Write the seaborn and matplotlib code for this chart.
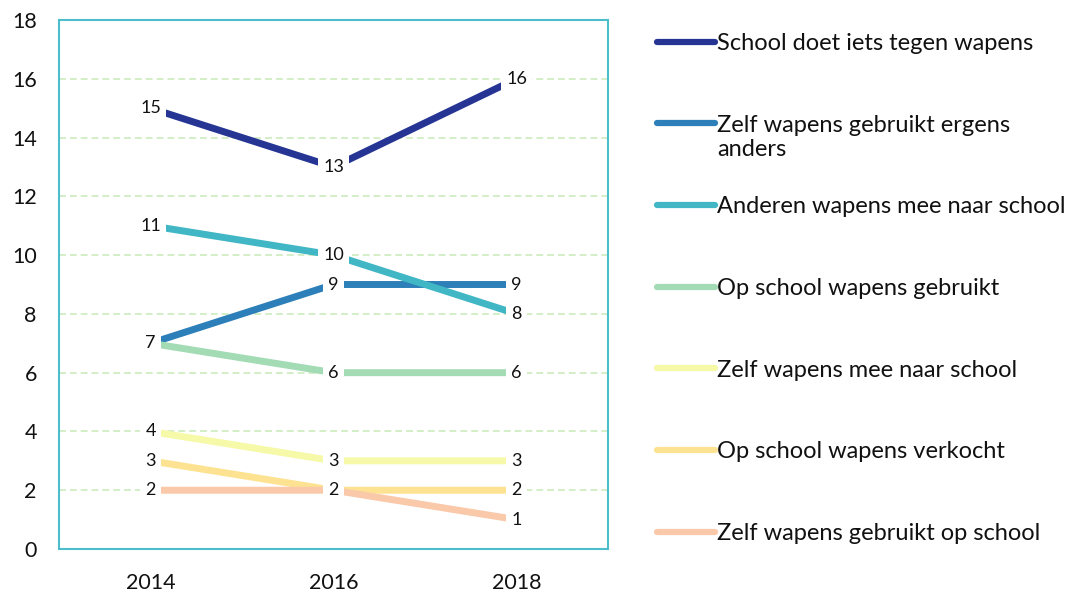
import matplotlib
matplotlib.use("Agg")
import numpy as np
import pandas as pd
import seaborn as sns
import matplotlib.pyplot as plt

# ---- data ----
years = [2014, 2016, 2018]
series = [
    "School doet iets tegen wapens",
    "Zelf wapens gebruikt ergens anders",
    "Anderen wapens mee naar school",
    "Op school wapens gebruikt",
    "Zelf wapens mee naar school",
    "Op school wapens verkocht",
    "Zelf wapens gebruikt op school",
]
school_doet_iets = [15, 13, 16]
zelf_gebruikt_ergens = [7, 9, 9]
anderen_mee = [11, 10, 8]
school_gebruikt = [7, 6, 6]
zelf_mee = [4, 3, 3]
school_verkocht = [3, 2, 2]
zelf_gebruikt_school = [2, 2, 1]
values = [school_doet_iets, zelf_gebruikt_ergens, anderen_mee, school_gebruikt,
          zelf_mee, school_verkocht, zelf_gebruikt_school]
colors = ["#263594", "#2c7fb8", "#41b6c4", "#a3dbb5", "#f6f9a7", "#fde391", "#f9c9a9"]
y_ticks = [0, 2, 4, 6, 8, 10, 12, 14, 16, 18]

rows = []
for name, vals in zip(series, values):
    for yr, v in zip(years, vals):
        rows.append({"jaar": yr, "waarde": v, "reeks": name})
df = pd.DataFrame(rows)

sns.set_theme(style="white")
plt.rcParams["font.family"] = ["Lato", "DejaVu Sans"]

fig = plt.figure(figsize=(10.68, 5.92), dpi=100)
ax = fig.add_axes([59 / 1068, 1 - 549 / 592, (608 - 59) / 1068, (549 - 20) / 592])

sns.lineplot(data=df, x="jaar", y="waarde", hue="reeks", hue_order=series,
             palette=colors, linewidth=5, sort=False, legend=False, ax=ax,
             zorder=2)
for ln in ax.lines:
    ln.set_solid_capstyle("butt")

# data labels
for name, vals in zip(series, values):
    for yr, v in zip(years, vals):
        ax.text(yr, v, f"{v:g}", ha="center", va="center", fontsize=13,
                color="#111111", zorder=4,
                bbox=dict(boxstyle="square,pad=0.3", fc="white", ec="none"))

ax.set_xlim(2013, 2019)
ax.set_ylim(0, 18)
ax.set_xticks(years)
ax.set_xticklabels([str(y) for y in years])
ax.set_yticks(y_ticks)
ax.set_xlabel("")
ax.set_ylabel("")
ax.tick_params(axis="both", length=0, labelsize=15.5, colors="#111111")
ax.tick_params(axis="y", pad=16)
ax.tick_params(axis="x", pad=17)

for y in y_ticks[1:-1]:
    ax.axhline(y, color="#c8eab8", lw=1.1, dashes=(4.5, 2.6), zorder=1)

for sp in ax.spines.values():
    sp.set_visible(True)
    sp.set_color("#4bbdcb")
    sp.set_linewidth(1.5)

# legend
legend_labels = [s if s != "Zelf wapens gebruikt ergens anders" else "Zelf wapens gebruikt ergens"
                 for s in series]
leg = ax.legend(ax.lines[:len(series)], legend_labels, loc="upper left",
                bbox_to_anchor=(657 / 1068, 1 - 33 / 592), bbox_transform=fig.transFigure,
                frameon=False, fontsize=17, handlelength=2.45, handletextpad=0.1,
                labelspacing=2.57, borderpad=0, borderaxespad=0)
for h in leg.legend_handles:
    h.set_solid_capstyle("round")
    h.set_linewidth(4.5)
for t in leg.get_texts():
    t.set_color("#111111")

ax.annotate("anders", xy=(0, 0), xycoords=leg.get_texts()[1],
            xytext=(0, -20), textcoords="offset pixels", ha="left", va="baseline",
            fontsize=17, color="#111111", annotation_clip=False, zorder=6)

fig.savefig("out.png", dpi=100)
